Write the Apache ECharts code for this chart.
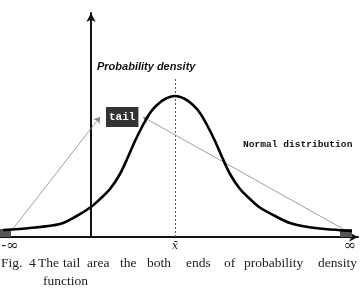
<!DOCTYPE html>
<html>
<head>
<meta charset="utf-8">
<script src="https://cdn.jsdelivr.net/npm/echarts@6/dist/echarts.min.js"></script>
<style>
  html, body { margin: 0; padding: 0; background: #fff; }
  #chart { width: 362px; height: 291px; }
</style>
</head>
<body>
<div id="chart"></div>
<script>
const curveX = [-88, -61, -31, -16, 0, 9, 19, 29, 37, 44, 52, 59, 66, 74, 84, 94, 102, 109, 116, 124, 131, 139, 149, 159, 168, 184, 199, 217, 234, 261];
const curveY = [7, 9, 13, 20, 30, 38, 48, 63, 80, 96, 112, 124, 132, 138, 141, 138, 132, 124, 112, 96, 80, 63, 48, 38, 30, 21, 14, 10, 8, 6];
const meanX = 84;
const meanTop = 159;
const tailLeft = [-91, -80];
const tailRight = [249, 261];
const tailHeight = 8;
const arrowFrom = [[-79, 7], [254, 7]];
const arrowTo = [[9, 120], [52, 120]];
const tickValues = [-81, 84, 259];
const tickLabels = ['{inf|-∞}', '{xbar|x̄}', '{inf|∞}'];
const captionWords = ['Fig.', '4', 'The', 'tail', 'area', 'the', 'both', 'ends', 'of', 'probability', 'density'];
const captionLeft = [1, 29, 38, 63, 87, 120, 147, 186, 224, 244, 318];

const chart = echarts.init(document.getElementById('chart'));

const curveData = curveX.map((x, i) => [x, curveY[i]]);

const option = {
  animation: false,
  grid: { left: 0, right: 4, top: 13, bottom: 54, containLabel: false, outerBoundsMode: 'none' },
  xAxis: {
    type: 'value',
    min: -91,
    max: 267,
    splitLine: { show: false },
    axisTick: { show: false },
    axisLine: {
      onZero: false,
      symbol: ['none', 'arrow'],
      symbolSize: [7, 9],
      lineStyle: { color: '#111', width: 2 }
    },
    axisLabel: {
      customValues: tickValues,
      formatter: (v) => tickLabels[tickValues.indexOf(v)] || '',
      margin: 2,
      color: '#222',
      fontFamily: 'DejaVu Serif',
      rich: {
        inf: { fontSize: 15, fontFamily: 'DejaVu Serif', color: '#222' },
        xbar: { fontSize: 11, fontStyle: 'italic', fontFamily: 'DejaVu Serif', color: '#222', padding: [2, 0, 0, 0] }
      }
    }
  },
  yAxis: {
    type: 'value',
    min: 0,
    max: 224,
    splitLine: { show: false },
    axisTick: { show: false },
    axisLabel: { show: false },
    axisLine: {
      onZero: true,
      symbol: ['none', 'arrow'],
      symbolSize: [7, 9],
      lineStyle: { color: '#111', width: 2 }
    }
  },
  series: [
    {
      type: 'line',
      data: curveData,
      smooth: 0.3,
      showSymbol: false,
      lineStyle: { color: '#000', width: 2.6 },
      z: 5,
      markLine: {
        silent: true,
        symbol: ['none', 'none'],
        label: { show: false },
        lineStyle: { color: '#555', type: [2, 2], width: 1 },
        data: [[{ coord: [meanX, 0] }, { coord: [meanX, meanTop] }]]
      },
      markArea: {
        silent: true,
        itemStyle: { color: '#555' },
        data: [
          [{ coord: [tailLeft[0], 0] }, { coord: [tailLeft[1], tailHeight] }],
          [{ coord: [tailRight[0], 0] }, { coord: [tailRight[1], tailHeight] }]
        ]
      }
    },
    {
      type: 'line',
      data: [],
      markLine: {
        silent: true,
        symbol: ['none', 'arrow'],
        symbolSize: 6,
        label: { show: false },
        lineStyle: { color: '#888', type: 'solid', width: 0.8 },
        data: arrowFrom.map((a, i) => [{ coord: a }, { coord: arrowTo[i] }])
      }
    }
  ],
  graphic: [
    {
      type: 'text', left: 97, top: 61,
      style: { text: 'Probability density', font: 'italic bold 11px "Liberation Sans"', fill: '#111' }
    },
    {
      type: 'text', left: 106, top: 107,
      style: {
        text: 'tail', font: 'bold 11px "Liberation Mono"', fill: '#fff',
        backgroundColor: '#333', padding: [5, 3, 4, 3]
      }
    },
    {
      type: 'text', left: 243, top: 140,
      style: { text: 'Normal distribution', font: 'bold 9.6px "Liberation Mono"', fill: '#111' }
    },
    ...captionWords.map((w, i) => ({
      type: 'text', left: captionLeft[i], top: 256,
      style: { text: w, font: '13.5px "Liberation Serif"', fill: '#222' }
    })),
    {
      type: 'text', left: 43, top: 274,
      style: { text: 'function', font: '13.5px "Liberation Serif"', fill: '#222' }
    }
  ]
};

chart.setOption(option);
</script>
</body>
</html>
